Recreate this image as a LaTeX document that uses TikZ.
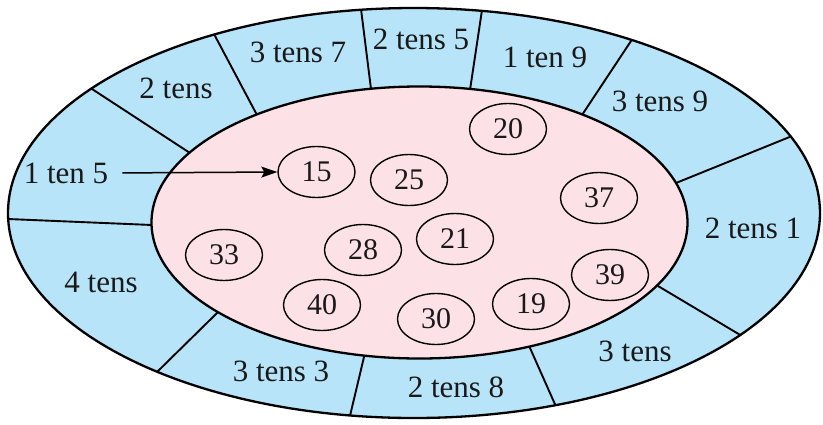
\documentclass[tikz,border=0pt]{standalone}
\usepackage{fontspec}
\setmainfont{Liberation Serif}
\newfontfamily\tms{Liberation Serif}
\usetikzlibrary{shapes.geometric,arrows.meta}
\definecolor{ringblue}{RGB}{183,228,248}
\definecolor{innerpink}{RGB}{252,226,230}
\begin{document}
\begin{tikzpicture}[x=1pt,y=-1pt,
  lbl/.style={font=\tms\fontsize{31}{36}\selectfont, inner sep=1pt, text=black!90},
  num/.style={draw, ellipse, line width=1.4pt, minimum width=77pt, minimum height=51pt, inner sep=0pt, font=\tms\fontsize{30}{36}\selectfont, text=black!90},
  divider/.style={line width=1.9pt, shorten <=-8pt, shorten >=-8pt},
  rim/.style={line width=2.3pt}]
\useasboundingbox (0,0) rectangle (823,424);
% divider end points (outer / inner)
\coordinate (o1) at (92,89);   \coordinate (i1) at (190,153);
\coordinate (o2) at (214,34);  \coordinate (i2) at (257,115);
\coordinate (o3) at (361,9);   \coordinate (i3) at (371,89);
\coordinate (o4) at (482,10);  \coordinate (i4) at (470,90);
\coordinate (o5) at (633,38);  \coordinate (i5) at (582,115);
\coordinate (o6) at (797,134); \coordinate (i6) at (676,183);
\coordinate (o7) at (747,339); \coordinate (i7) at (658,286);
\coordinate (o8) at (558,411); \coordinate (i8) at (530,348);
\coordinate (o9) at (349,420); \coordinate (i9) at (364,357);
\coordinate (o10) at (155,374); \coordinate (i10) at (216,314);
\coordinate (o11) at (8,219);  \coordinate (i11) at (152,225);
\fill[ringblue] (414,213) ellipse [x radius=406pt, y radius=205pt];
\begin{scope}
  \clip (414,213) ellipse [x radius=406pt, y radius=205pt];
  \foreach \k in {1,...,11} \draw[divider] (o\k) -- (i\k);
\end{scope}
\draw[rim, fill=innerpink] (419.5,222.5) ellipse [x radius=268pt, y radius=136pt];
\draw[rim] (414,213) ellipse [x radius=406pt, y radius=205pt];
% ring labels
\node[lbl] (t15) at (66,173) {1 ten 5};
\node[lbl] (t20) at (176,88) {2 tens};
\node[lbl] (t37) at (298,52) {3 tens 7};
\node[lbl] (t25) at (421,39) {2 tens 5};
\node[lbl] (t19) at (545,57) {1 ten 9};
\node[lbl] (t39) at (660,101) {3 tens 9};
\node[lbl] (t21) at (753,228) {2 tens 1};
\node[lbl] (t30) at (635,351) {3 tens};
\node[lbl] (t28) at (456,387) {2 tens 8};
\node[lbl] (t33) at (281,371) {3 tens 3};
\node[lbl] (t40) at (101,282) {4 tens};
% numbers
\node[num] (n15) at (316.5,172) {15};
\node[num] (n25) at (409,180) {25};
\node[num] (n20) at (508,129) {20};
\node[num] (n37) at (599,198) {37};
\node[num] (n33) at (224,255) {33};
\node[num] (n28) at (363,250) {28};
\node[num] (n21) at (455,239) {21};
\node[num] (n40) at (322,305) {40};
\node[num] (n30) at (436,319) {30};
\node[num] (n19) at (531,304) {19};
\node[num] (n39) at (610,275) {39};
% arrow
\draw[line width=1.5pt, -{Stealth[length=16pt,width=11pt,inset=3pt]}, shorten <=13pt] (t15.east) -- (n15.west);
\end{tikzpicture}
\end{document}
